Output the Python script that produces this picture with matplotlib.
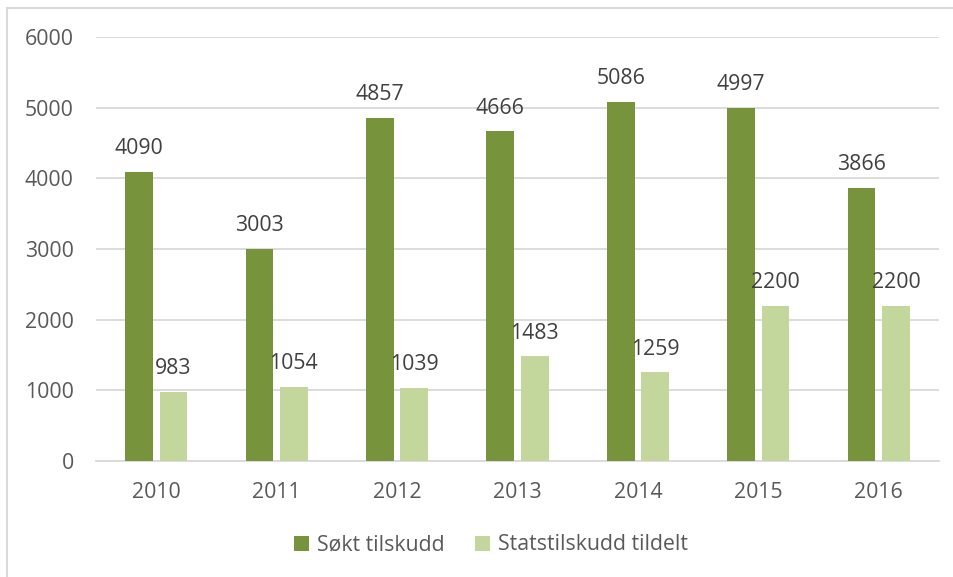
import matplotlib.pyplot as plt
import numpy as np
from matplotlib.patches import Rectangle

years = ["2010", "2011", "2012", "2013", "2014", "2015", "2016"]
sokt = [4090, 3003, 4857, 4666, 5086, 4997, 3866]
tildelt = [983, 1054, 1039, 1483, 1259, 2200, 2200]

dark = "#77933C"
light = "#C3D69B"
text_col = "#595959"
grid_col = "#D9D9D9"

plt.rcParams['font.family'] = ['Open Sans', 'DejaVu Sans']

fig = plt.figure(figsize=(9.54, 5.77), dpi=100)
ax = fig.add_axes([96 / 954, 1 - 461 / 577, 843 / 954, 424 / 577])

x = np.arange(len(years))
w = 0.23
off = 0.143
b1 = ax.bar(x - off, sokt, w, color=dark, label="Søkt tilskudd", zorder=3)
b2 = ax.bar(x + off, tildelt, w, color=light, label="Statstilskudd tildelt", zorder=3)

for bars, vals in ((b1, sokt), (b2, tildelt)):
    for r, v in zip(bars, vals):
        ax.annotate(str(v), (r.get_x() + r.get_width() / 2, v),
                    xytext=(0, 9), textcoords="offset points",
                    ha="center", va="bottom", fontsize=15.3, color="#404040")

ax.set_xlim(-0.5, len(years) - 0.5)
ax.set_ylim(0, 6000)
ax.set_yticks(range(0, 6001, 1000))
ax.set_xticks(x)
ax.set_xticklabels(years)
ax.yaxis.grid(True, color=grid_col, linewidth=1.3, zorder=0)
for s in ["top", "right", "left"]:
    ax.spines[s].set_visible(False)
ax.spines["bottom"].set_color(grid_col)
ax.spines["bottom"].set_linewidth(1.3)
ax.tick_params(axis="both", length=0, labelsize=15.3, colors=text_col)
ax.tick_params(axis="y", pad=16)
ax.tick_params(axis="x", pad=15)

fig.legend(handles=[b1, b2], loc="center", bbox_to_anchor=(491 / 954, 1 - 545 / 577),
           ncol=2, frameon=False, fontsize=15.3, labelcolor=text_col,
           handlelength=0.7, handleheight=0.7, handletextpad=0.4, columnspacing=1.4)

fig.patches.append(Rectangle((7 / 954, -0.05), 1.1, 1 - 8 / 577 + 0.05,
                             transform=fig.transFigure, fill=False,
                             edgecolor=grid_col, linewidth=1.5))

fig.savefig("out.png", dpi=100)
